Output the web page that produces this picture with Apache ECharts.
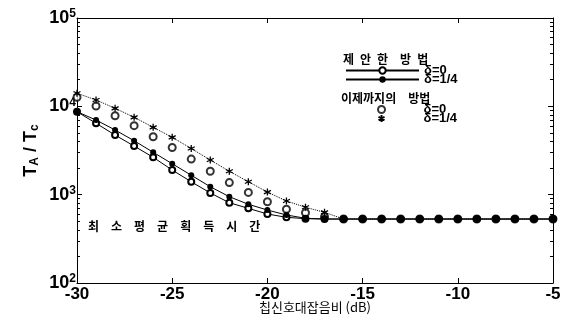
<!DOCTYPE html>
<html>
<head>
<meta charset="utf-8">
<script src="https://cdn.jsdelivr.net/npm/echarts@6/dist/echarts.min.js"></script>
<style>
  html, body { margin: 0; padding: 0; background: #fff; }
  #chart { width: 568px; height: 320px; }
</style>
</head>
<body>
<div id="chart"></div>
<script>
// 칩신호대잡음비 (dB)
var snr = [-30, -29, -28, -27, -26, -25, -24, -23, -22, -21, -20, -19, -18, -17, -16, -15, -14, -13, -12, -11, -10, -9, -8, -7, -6, -5];
// 제안한 방법
var newD0  = [8690, 6430, 4730, 3550, 2650, 1900, 1400, 1045, 811, 700, 604, 554, 535, 530, 530, 530, 530, 530, 530, 530, 530, 530, 530, 530, 530, 530];
var newD14 = [8690, 7000, 5400, 4080, 3020, 2240, 1660, 1230, 948, 778, 670, 589, 540, 530, 530, 530, 530, 530, 530, 530, 530, 530, 530, 530, 530, 530];
// 이제까지의 방법
var oldD0  = [12650, 10090, 7830, 6040, 4530, 3420, 2530, 1840, 1370, 1060, 832, 683, 625, 562, 530, 530, 530, 530, 530, 530, 530, 530, 530, 530, 530, 530];
var oldD14 = [14060, 11800, 9500, 7510, 5790, 4460, 3330, 2470, 1840, 1400, 1070, 848, 720, 631, 530, 530, 530, 530, 530, 530, 530, 530, 530, 530, 530, 530];

function pairs(vals) {
  return snr.map(function (x, i) { return [x, vals[i]]; });
}

var star = 'path://M0,-5L0,5M-4.3,-2.5L4.3,2.5M-4.3,2.5L4.3,-2.5';
var numFont = 'Liberation Sans';
var krFont = 'Noto Sans CJK KR';

var myChart = echarts.init(document.getElementById('chart'));

var axisCommon = {
  axisLine: {show: true, lineStyle: {color: '#000', width: 1}},
  axisTick: {show: true, inside: true, length: 5, lineStyle: {color: '#000'}},
  splitLine: {show: false}
};
var minorCommon = {show: true, splitNumber: 9, length: 3, lineStyle: {color: '#000'}};

myChart.setOption({
  animation: false,
  backgroundColor: '#fff',
  grid: {left: 77, right: 15, top: 18, bottom: 37, outerBoundsMode: 'none'},
  xAxis: [
    Object.assign({
      type: 'value', position: 'bottom', min: -30, max: -5, interval: 5,
      axisLabel: {color: '#000', fontFamily: numFont, fontWeight: 'bold', fontSize: 17, margin: 3},
      name: '칩신호대잡음비 (dB)', nameLocation: 'middle', nameGap: 18, nameMoveOverlap: false,
      nameTextStyle: {color: '#000', fontFamily: krFont, fontSize: 13}
    }, axisCommon),
    Object.assign({
      type: 'value', position: 'top', min: -30, max: -5, interval: 5,
      axisLabel: {show: false}
    }, axisCommon)
  ],
  yAxis: [
    Object.assign({
      type: 'log', logBase: 10, position: 'left', min: 100, max: 100000,
      minorTick: minorCommon,
      axisLabel: {
        margin: 1,
        formatter: function (v) {
          var p = Math.round(Math.log10(v));
          return '{b|10}{s|' + p + '}';
        },
        rich: {
          b: {color: '#000', fontFamily: numFont, fontWeight: 'bold', fontSize: 18, lineHeight: 20},
          s: {color: '#000', fontFamily: numFont, fontWeight: 'bold', fontSize: 12, lineHeight: 10, verticalAlign: 'top'}
        }
      },
      name: '{t|T}{sub|A}{t| / T}{sub|c}', nameLocation: 'middle', nameGap: 36, nameRotate: 90, nameMoveOverlap: false,
      nameTextStyle: {
        rich: {
          t: {color: '#000', fontFamily: numFont, fontWeight: 'bold', fontSize: 18, lineHeight: 20},
          sub: {color: '#000', fontFamily: numFont, fontWeight: 'bold', fontSize: 12, lineHeight: 10, verticalAlign: 'bottom'}
        }
      }
    }, axisCommon),
    Object.assign({
      type: 'log', logBase: 10, position: 'right', min: 100, max: 100000,
      minorTick: minorCommon,
      axisLabel: {show: false}
    }, axisCommon)
  ],
  legend: [
    {
      left: 345, top: 64, padding: 0, orient: 'vertical', itemWidth: 73, itemHeight: 8, itemGap: -4,
      textStyle: {color: '#000', fontFamily: numFont, fontWeight: 'bold', fontSize: 13},
      formatter: function (n) { return n.split(' ')[1]; },
      data: ['new δ=0', 'new δ=1/4']
    },
    {
      left: 376, top: 103, padding: 0, orient: 'vertical', itemWidth: 8, itemHeight: 7, itemGap: -4,
      textStyle: {color: '#000', fontFamily: numFont, fontWeight: 'bold', fontSize: 13, padding: [0, 0, 0, 33]},
      formatter: function (n) { return n.split(' ')[1]; },
      data: [{name: 'old δ=0', icon: 'emptyCircle'}, {name: 'old δ=1/4', icon: star}]
    }
  ],
  graphic: [
    {type: 'text', left: 343, top: 53, style: {text: '제\u2002안\u2002한\u3000방\u2002법', font: 'bold 12px "Noto Sans CJK KR"', fill: '#000'}},
    {type: 'text', left: 341, top: 92, style: {text: '이제까지의\u3000방법', font: 'bold 12px "Noto Sans CJK KR"', fill: '#000'}},
    {type: 'text', left: 88, top: 220, style: {text: '최\u3000소\u3000평\u3000균\u3000획\u3000득\u3000시\u3000간', font: 'bold 12px "Noto Sans CJK KR"', fill: '#000'}}
  ],
  series: [
    {
      name: 'new δ=0', type: 'line', data: pairs(newD0), z: 3,
      symbol: 'emptyCircle', symbolSize: 6,
      lineStyle: {color: '#000', width: 1}, itemStyle: {color: '#000', borderColor: '#000', borderWidth: 1}
    },
    {
      name: 'new δ=1/4', type: 'line', data: pairs(newD14), z: 4,
      symbol: 'circle', symbolSize: 6,
      lineStyle: {color: '#000', width: 1}, itemStyle: {color: '#000'}
    },
    {
      name: 'old δ=0', type: 'scatter', data: pairs(oldD0), z: 2,
      symbol: 'emptyCircle', symbolSize: 7,
      itemStyle: {color: '#000', borderColor: '#000', borderWidth: 1}
    },
    {
      name: 'old δ=1/4', type: 'line', data: pairs(oldD14), z: 2,
      symbol: star, symbolSize: 7,
      lineStyle: {color: '#000', width: 1, type: 'dotted'},
      itemStyle: {color: 'none', borderColor: '#000', borderWidth: 1.3}
    }
  ]
});
</script>
</body>
</html>
